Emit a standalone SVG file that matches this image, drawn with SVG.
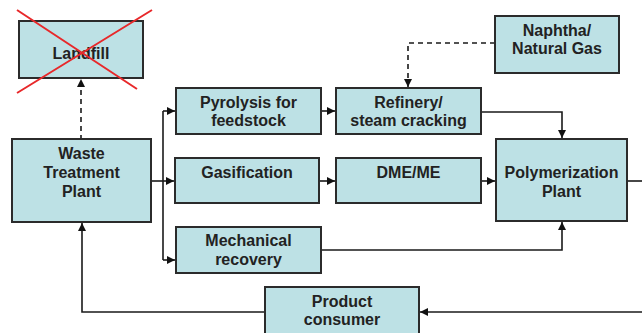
<svg xmlns="http://www.w3.org/2000/svg" width="642" height="333" viewBox="0 0 642 333">
<defs>
<marker id="ah" viewBox="0 0 10 10" refX="10" refY="5" markerWidth="8" markerHeight="8" markerUnits="userSpaceOnUse" orient="auto">
<path d="M0,0 L10,5 L0,10 z" fill="#111"/>
</marker>
</defs>
<style>
.box{fill:#bde1e5;stroke:#2b2b2b;stroke-width:2}
.t{font-family:"Liberation Sans",Arial,sans-serif;font-weight:bold;font-size:16px;fill:#222;text-anchor:middle}
.c{fill:none;stroke:#1a1a1a;stroke-width:1.6}
.d{stroke-dasharray:5,4}
</style>
<rect width="642" height="333" fill="#fff"/>
<g id="connectors">
<path class="c d" d="M81,140 L81,79" marker-end="url(#ah)"/>
<path class="c d" d="M495,43 L408,43 L408,87" marker-end="url(#ah)"/>
<path class="c" d="M151,181 L163,181"/>
<path class="c" d="M163,111 L163,260"/>
<path class="c" d="M163,111 L175,111" marker-end="url(#ah)"/>
<path class="c" d="M163,181 L174,181" marker-end="url(#ah)"/>
<path class="c" d="M163,260 L175,260" marker-end="url(#ah)"/>
<path class="c" d="M321,111 L335,111" marker-end="url(#ah)"/>
<path class="c" d="M319,181 L335,181" marker-end="url(#ah)"/>
<path class="c" d="M481,181 L495,181" marker-end="url(#ah)"/>
<path class="c" d="M481,112 L562,112 L562,138" marker-end="url(#ah)"/>
<path class="c" d="M321,250 L562,250 L562,222" marker-end="url(#ah)"/>
<path class="c" d="M627,181 L642,181"/>
<path class="c" d="M642,312 L420,312" marker-end="url(#ah)"/>
<path class="c" d="M265,312 L82,312 L82,223" marker-end="url(#ah)"/>
</g>
<g id="landfill">
<rect class="box" x="19" y="21" width="124" height="57"/>
<text class="t" x="81" y="59">Landfill</text>
<path d="M17,10 L137,89 M152,10 L17,93" stroke="#e8282a" stroke-width="2" fill="none"/>
</g>
<g id="waste">
<rect class="box" x="12" y="139" width="139" height="83"/>
<text class="t" x="81.5" y="159">Waste</text>
<text class="t" x="81.5" y="178">Treatment</text>
<text class="t" x="81.5" y="197">Plant</text>
</g>
<g id="pyrolysis">
<rect class="box" x="176" y="88" width="145" height="46"/>
<text class="t" x="248.5" y="108">Pyrolysis for</text>
<text class="t" x="248.5" y="126">feedstock</text>
</g>
<g id="refinery">
<rect class="box" x="336" y="88" width="145" height="46"/>
<text class="t" x="408.5" y="108">Refinery/</text>
<text class="t" x="408.5" y="126">steam cracking</text>
</g>
<g id="naphtha">
<rect class="box" x="495" y="16" width="124" height="57"/>
<text class="t" x="557" y="36">Naphtha/</text>
<text class="t" x="557" y="54">Natural Gas</text>
</g>
<g id="gasification">
<rect class="box" x="175" y="158" width="144" height="45"/>
<text class="t" x="247" y="178">Gasification</text>
</g>
<g id="dme">
<rect class="box" x="336" y="158" width="145" height="45"/>
<text class="t" x="408.5" y="178">DME/ME</text>
</g>
<g id="polymerization">
<rect class="box" x="496" y="139" width="131" height="82"/>
<text class="t" x="561.5" y="178">Polymerization</text>
<text class="t" x="561.5" y="197">Plant</text>
</g>
<g id="mechanical">
<rect class="box" x="176" y="227" width="145" height="46"/>
<text class="t" x="248.5" y="246">Mechanical</text>
<text class="t" x="248.5" y="265">recovery</text>
</g>
<g id="consumer">
<rect class="box" x="265" y="287" width="154" height="50"/>
<text class="t" x="342" y="307">Product</text>
<text class="t" x="342" y="325">consumer</text>
</g>
</svg>
